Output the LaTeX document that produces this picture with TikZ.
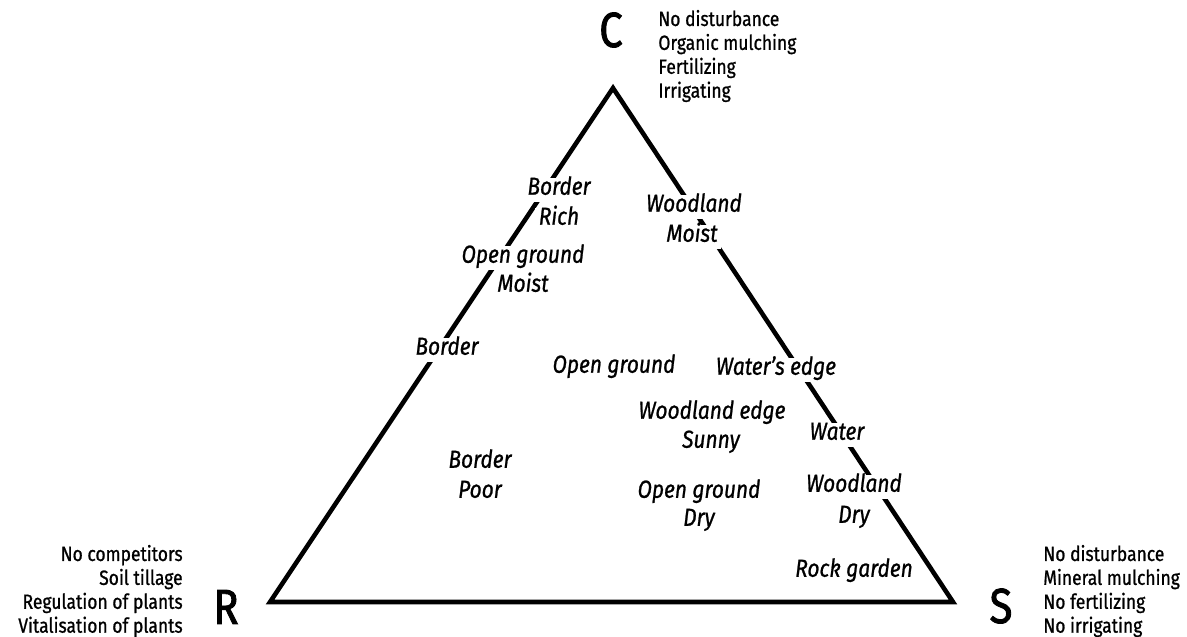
\documentclass[tikz,border=0pt]{standalone}
\usepackage{fontspec}
\setmainfont{Fira Sans}[FakeStretch=0.85, FakeBold=0.9]
\newfontfamily\cornerfont{Fira Sans}[FakeStretch=0.85, FakeBold=1.8]
\usetikzlibrary{calc}

\tikzset{
  habitat/.style={font=\fontsize{14}{16.8}\selectfont\itshape, fill=white,
    inner xsep=2pt, inner ysep=2.5pt, text height=0.72em, text depth=0.18em},
  strategy/.style={font=\cornerfont\fontsize{28}{30}\selectfont, inner sep=0pt},
  measures/.style={font=\fontsize{11.7}{13.6}\selectfont, inner sep=0pt}
}

\begin{document}
\begin{tikzpicture}[x=0.02cm, y=-0.02cm, line join=miter]

    % Fix the frame
    \useasboundingbox (0,0) rectangle (1187,636);

    % First draw the triangle
    \coordinate (top) at (613, 88);
    \coordinate (left) at (270, 602);
    \coordinate (right) at (953, 602);
    \draw[line width=2.6pt] (top) -- (left) -- (right) -- cycle;

    % Label the corners
    \node[strategy] (C) at (611, 30) {C};
    \node[strategy] (R) at (226, 607) {R};
    \node[strategy] (S) at (1001, 606) {S};

    % Maintenance for each corner
    \node[measures, anchor=west, align=left] (Cm) at (658, 56)
      {No disturbance\\Organic mulching\\Fertilizing\\Irrigating};
    \node[measures, anchor=east, align=right] (Rm) at (183, 591)
      {No competitors\\Soil tillage\\Regulation of plants\\Vitalisation of plants};
    \node[measures, anchor=west, align=left] (Sm) at (1043, 591)
      {No disturbance\\Mineral mulching\\No fertilizing\\No irrigating};

    % Habitats, one node for each line so that the edges show between them
    \foreach \x/\y/\name/\txt in {
        559/190/borderrich/Border, 559/220/rich/Rich,
        523/258/opengroundmoist/Open ground, 523/287/moist/Moist,
        447/350/border/Border,
        694/207/woodlandmoist/Woodland, 692/237/moistwood/Moist,
        614/368/openground/Open ground,
        776/370/watersedge/Water's edge,
        712/414/woodlandedge/Woodland edge, 711/443/sunny/Sunny,
        837/435/water/Water,
        480/463/borderpoor/Border, 480/493/poor/Poor,
        699/493/opengrounddry/Open ground, 699/521/dry/Dry,
        854/487/woodlanddry/Woodland, 854/518/drywood/Dry,
        854/572/rockgarden/Rock garden}
      \node[habitat] (\name) at (\x, \y) {\txt};
  \end{tikzpicture}
\end{document}
